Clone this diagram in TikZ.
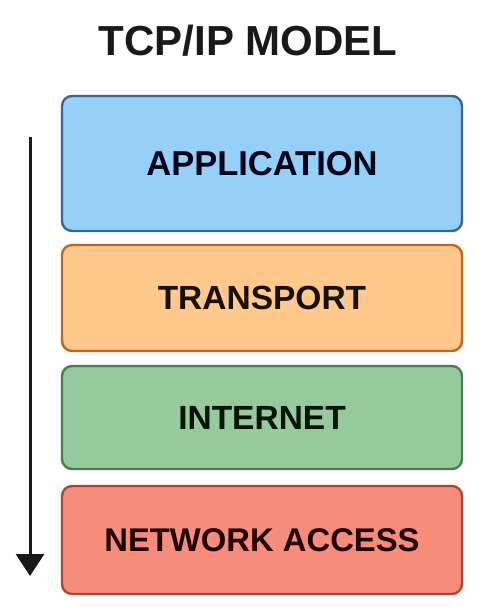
\documentclass[tikz,border=0pt]{standalone}
\usepackage{fontspec}
\setmainfont{Liberation Sans}
\usepackage{tikz}
\usetikzlibrary{arrows.meta}

\definecolor{appfill}{HTML}{95D0F8}
\definecolor{appline}{HTML}{3B6690}
\definecolor{trafill}{HTML}{FFC98C}
\definecolor{traline}{HTML}{C0661E}
\definecolor{intfill}{HTML}{96C99C}
\definecolor{intline}{HTML}{4A7C55}
\definecolor{netfill}{HTML}{F78C7B}
\definecolor{netline}{HTML}{B0443A}

\tikzset{layer/.style={rectangle,rounded corners=10pt,line width=2.4pt,minimum width=400pt,font=\fontsize{33.5}{36}\selectfont\bfseries}}

\begin{document}
\begin{tikzpicture}[x=1pt,y=-1pt]
\useasboundingbox (0,0) rectangle (496,613);
\node[anchor=base,font=\fontsize{42}{46}\selectfont\bfseries,text=black!90] (title) at (248,55) {TCP/IP MODEL};
\node[layer,draw=appline,fill=appfill,minimum height=135pt,text=black!92!blue,font=\fontsize{34.5}{38}\selectfont\bfseries] (app) at (262,163.5) {APPLICATION};
\node[layer,draw=traline,fill=trafill,minimum height=106pt,text=black!88!brown] (tra) at (262,298) {TRANSPORT};
\node[layer,draw=intline,fill=intfill,minimum height=103pt,text=black!92!green] (int) at (262,417.5) {INTERNET};
\node[layer,draw=netline,fill=netfill,minimum height=108pt,text=black!88!red,font=\fontsize{32.8}{36}\selectfont\bfseries] (net) at (262,540) {NETWORK ACCESS};
\coordinate (top) at (30,137);
\coordinate (bot) at (30,576);
\draw[line width=3pt,black!90,-{Triangle[width=28pt,length=22pt]}] (top)--(bot);
\end{tikzpicture}
\end{document}
